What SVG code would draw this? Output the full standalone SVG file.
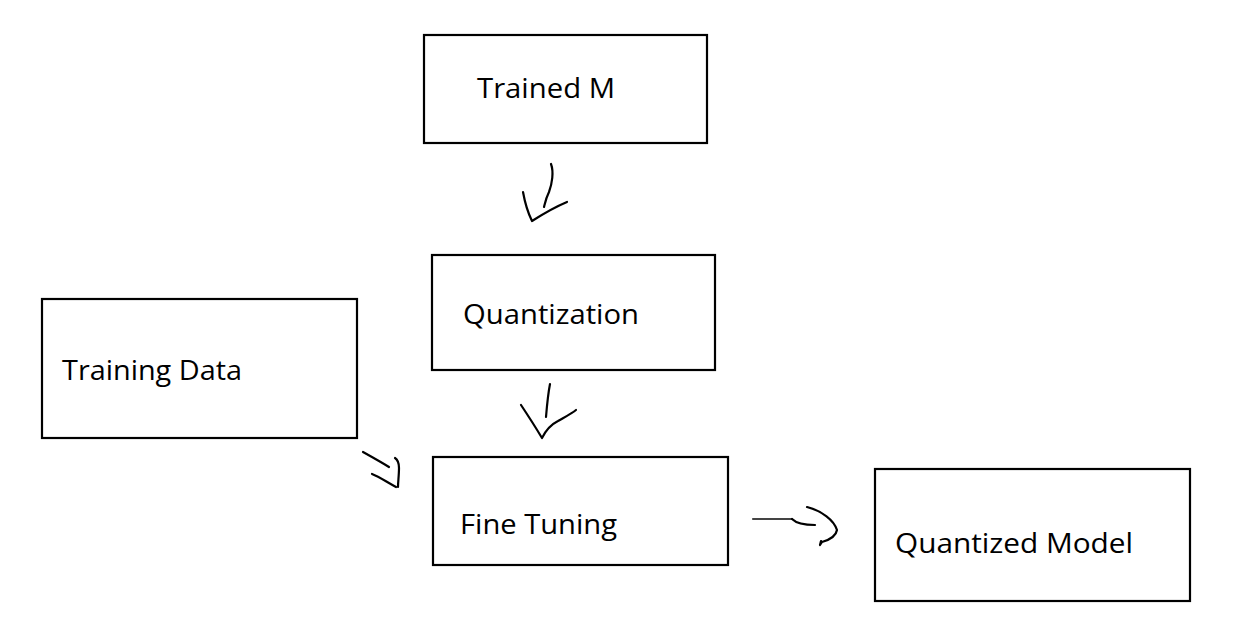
<svg xmlns="http://www.w3.org/2000/svg" width="1243" height="642" viewBox="0 0 1243 642">
<style>
.box{fill:#fff;stroke:#000;stroke-width:2.2}
.lbl{font-family:"Open Sans","Liberation Sans",sans-serif;font-size:27px;fill:#000}
.pen{fill:none;stroke:#000;stroke-width:2.2;stroke-linecap:round;stroke-linejoin:round}
</style>
<rect width="1243" height="642" fill="#fff"/>
<g id="node-trained">
<rect class="box" x="424" y="35" width="283" height="108"/>
<text class="lbl" x="477" y="98" textLength="138" lengthAdjust="spacingAndGlyphs">Trained M</text>
</g>
<g id="node-quantization">
<rect class="box" x="432" y="255" width="283" height="115"/>
<text class="lbl" x="463" y="324" textLength="176" lengthAdjust="spacingAndGlyphs">Quantization</text>
</g>
<g id="node-training-data">
<rect class="box" x="42" y="299" width="315" height="139"/>
<text class="lbl" x="62" y="380" textLength="180" lengthAdjust="spacingAndGlyphs">Training Data</text>
</g>
<g id="node-fine-tuning">
<rect class="box" x="433" y="457" width="295" height="108"/>
<text class="lbl" x="460" y="534" textLength="157" lengthAdjust="spacingAndGlyphs">Fine Tuning</text>
</g>
<g id="node-quantized-model">
<rect class="box" x="875" y="469" width="315" height="132"/>
<text class="lbl" x="895" y="553" textLength="238" lengthAdjust="spacingAndGlyphs">Quantized Model</text>
</g>
<g id="connectors">
<path class="pen" d="M551,164 C554,172 552,184 549,192 C546,198 545,203 544,207"/>
<path class="pen" d="M523,192 C525,203 528,213 532,221 C543,214 555,207 567,202"/>
<path class="pen" d="M550,384 C548,394 547,405 546,417"/>
<path class="pen" d="M521,405 C529,417 536,428 542,438 C546,430 552,424 558,421 C565,417 571,414 576,410"/>
<path class="pen" d="M363,452 C372,457 381,462 389,467"/>
<path class="pen" d="M395,458 C398,460 399,463 399,468 C399,475 398,482 398,487"/>
<path class="pen" d="M372,474 C380,477 388,483 396,487"/>
<path class="pen" d="M753,519 L792,519" style="stroke:#444"/>
<path class="pen" d="M792,519 C796,523 805,525 815,525"/>
<path class="pen" d="M807,507 C822,511 834,520 837,530 C836,536 829,540 822,542 L820,545 L821,541"/>
</g>
</svg>
